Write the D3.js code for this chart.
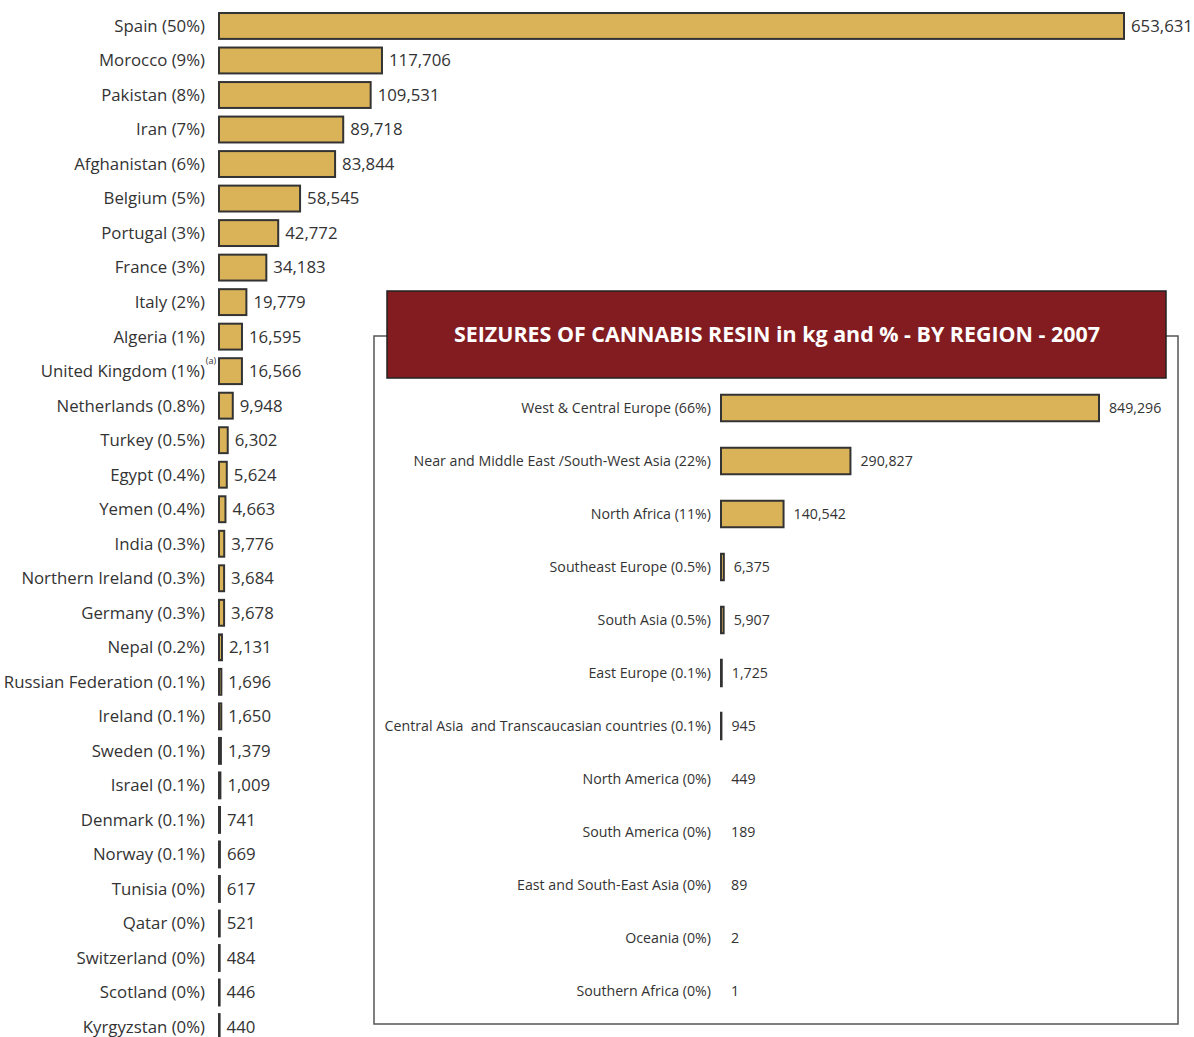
<!DOCTYPE html>
<html>
<head>
<meta charset="utf-8">
<script src="https://cdn.jsdelivr.net/npm/d3@7"></script>
<style>
  body { margin: 0; background: #fff; }
  text { font-family: "Open Sans", "Noto Sans", sans-serif; fill: #333; }
</style>
</head>
<body>
<svg id="chart" width="1194" height="1037"></svg>
<script>
// countries, 2007, kg
var countries = ["Spain", "Morocco", "Pakistan", "Iran", "Afghanistan", "Belgium", "Portugal", "France",
  "Italy", "Algeria", "United Kingdom", "Netherlands", "Turkey", "Egypt", "Yemen", "India",
  "Northern Ireland", "Germany", "Nepal", "Russian Federation", "Ireland", "Sweden", "Israel",
  "Denmark", "Norway", "Tunisia", "Qatar", "Switzerland", "Scotland", "Kyrgyzstan"];
var countryShares = ["50%", "9%", "8%", "7%", "6%", "5%", "3%", "3%", "2%", "1%", "1%", "0.8%", "0.5%",
  "0.4%", "0.4%", "0.3%", "0.3%", "0.3%", "0.2%", "0.1%", "0.1%", "0.1%", "0.1%", "0.1%", "0.1%",
  "0%", "0%", "0%", "0%", "0%"];
var countryValues = [653631, 117706, 109531, 89718, 83844, 58545, 42772, 34183, 19779, 16595, 16566,
  9948, 6302, 5624, 4663, 3776, 3684, 3678, 2131, 1696, 1650, 1379, 1009, 741, 669, 617, 521, 484, 446, 440];

// regions
var regions = ["West & Central Europe", "Near and Middle East /South-West Asia", "North Africa",
  "Southeast Europe", "South Asia", "East Europe", "Central Asia  and Transcaucasian countries",
  "North America", "South America", "East and South-East Asia", "Oceania", "Southern Africa"];
var regionShares = ["66%", "22%", "11%", "0.5%", "0.5%", "0.1%", "0.1%", "0%", "0%", "0%", "0%", "0%"];
var regionValues = [849296, 290827, 140542, 6375, 5907, 1725, 945, 449, 189, 89, 2, 1];

var title = "SEIZURES OF CANNABIS RESIN in kg and % - BY REGION - 2007";

var gold = "#dab358", edge = "#333", fmt = d3.format(",");
var svg = d3.select("#chart");

// ---- main chart ----
var x = d3.scaleLinear().domain([0, d3.max(countryValues)]).range([219, 1124]);
var y = d3.scaleBand().domain(countries).range([8.7, 1044.3]).paddingInner(0.25).paddingOuter(0.125);

var rows = svg.append("g").selectAll("g")
  .data(countries)
  .enter().append("g");

rows.append("rect")
  .attr("x", x(0))
  .attr("y", function(d){ return y(d); })
  .attr("width", function(d, i){ return x(countryValues[i]) - x(0); })
  .attr("height", y.bandwidth())
  .attr("fill", gold)
  .attr("stroke", edge)
  .attr("stroke-width", 2);

rows.append("text")
  .attr("x", 205)
  .attr("y", function(d){ return y(d) + y.bandwidth() / 2; })
  .attr("dy", "0.35em")
  .attr("text-anchor", "end")
  .style("font-size", "16.8px")
  .text(function(d, i){ return d + " (" + countryShares[i] + ")"; });

rows.append("text")
  .attr("x", function(d, i){ return x(countryValues[i]) + 7; })
  .attr("y", function(d){ return y(d) + y.bandwidth() / 2; })
  .attr("dy", "0.35em")
  .style("font-size", "16.8px")
  .text(function(d, i){ return fmt(countryValues[i]); });

// footnote mark on UK
svg.append("text")
  .attr("x", 211)
  .attr("y", y("United Kingdom") + 6)
  .attr("text-anchor", "middle")
  .style("font-size", "9px")
  .text("(a)");

// ---- inset ----
var inset = svg.append("g");
inset.append("rect")
  .attr("x", 374).attr("y", 336).attr("width", 804).attr("height", 688)
  .attr("fill", "#fff").attr("stroke", "#555").attr("stroke-width", 1.5);

inset.append("rect")
  .attr("x", 387).attr("y", 291).attr("width", 779).attr("height", 87)
  .attr("fill", "#821c20").attr("stroke", "#222").attr("stroke-width", 1.5);

inset.append("text")
  .attr("x", 777).attr("y", 335)
  .attr("dy", "0.35em")
  .attr("text-anchor", "middle")
  .attr("textLength", 646)
  .attr("lengthAdjust", "spacingAndGlyphs")
  .style("font-size", "21px").style("font-weight", "bold").style("fill", "#fff")
  .text(title);

var rx = d3.scaleLinear().domain([0, d3.max(regionValues)]).range([721, 1099]);
var ry = d3.scaleBand().domain(regions).range([381.5, 1017.5]).paddingInner(0.5).paddingOuter(0.25);

var rrows = inset.append("g").selectAll("g")
  .data(regions)
  .enter().append("g");

rrows.filter(function(d, i){ return rx(regionValues[i]) - rx(0) >= 0.4; })
  .append("rect")
  .attr("x", rx(0))
  .attr("y", function(d){ return ry(d); })
  .attr("width", function(d){ return rx(regionValues[regions.indexOf(d)]) - rx(0); })
  .attr("height", ry.bandwidth())
  .attr("fill", gold)
  .attr("stroke", edge)
  .attr("stroke-width", 2);

rrows.append("text")
  .attr("x", 711)
  .attr("y", function(d){ return ry(d) + ry.bandwidth() / 2; })
  .attr("dy", "0.35em")
  .attr("text-anchor", "end")
  .style("font-size", "14.2px")
  .style("white-space", "pre")
  .text(function(d, i){ return d + " (" + regionShares[i] + ")"; });

rrows.append("text")
  .attr("x", function(d, i){ return rx(regionValues[i]) + 10; })
  .attr("y", function(d){ return ry(d) + ry.bandwidth() / 2; })
  .attr("dy", "0.35em")
  .style("font-size", "14.2px")
  .text(function(d, i){ return fmt(regionValues[i]); });
</script>
</body>
</html>
